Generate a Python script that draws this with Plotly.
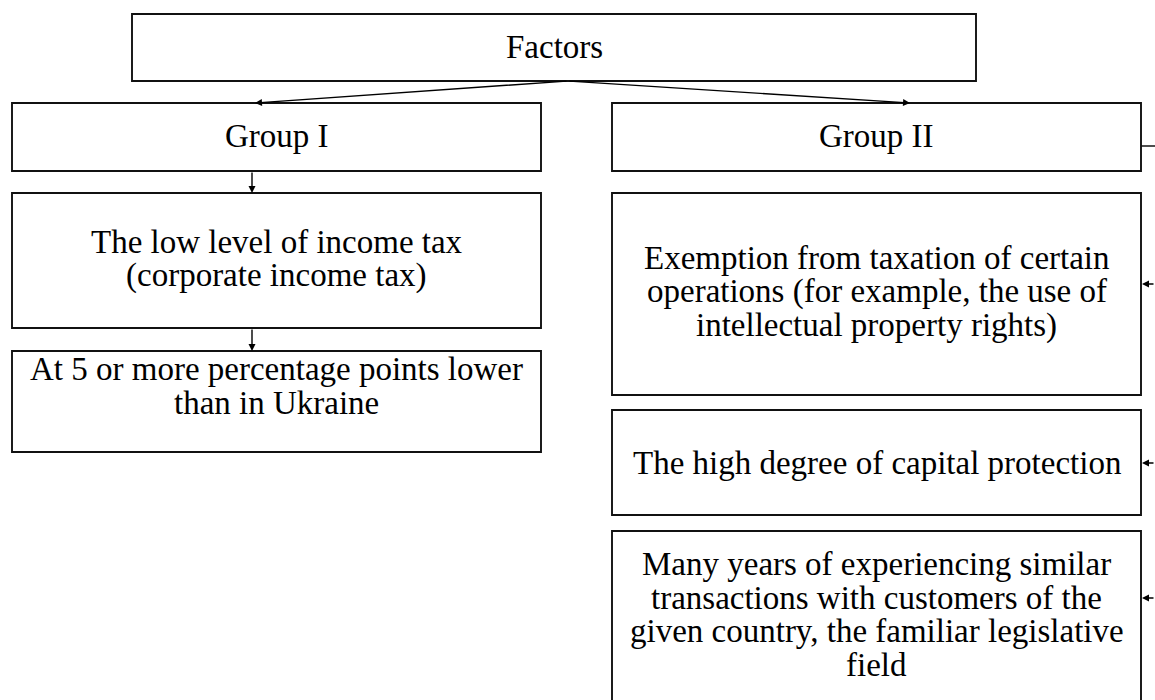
import plotly.graph_objects as go

# ---- content: each box's text, one entry per printed line ----
labels = [
    ["Factors"],
    ["Group I"],
    ["Group II"],
    ["The low level of income tax", "(corporate income tax)"],
    ["At 5 or more percentage points lower", "than in Ukraine"],
    ["Exemption from taxation of certain", "operations (for example, the use of",
     "intellectual property rights)"],
    ["The high degree of capital protection"],
    ["Many years of experiencing similar", "transactions with customers of the",
     "given country, the familiar legislative", "field"],
]

# ---- box geometry (pixel-like coordinates, y grows downward) ----
box_x0 = [132, 12, 612, 12, 12, 612, 612, 612]
box_x1 = [976, 541, 1141, 541, 541, 1141, 1141, 1141]
box_y0 = [14, 103, 103, 193, 351, 193, 410, 531]
box_y1 = [81, 171, 171, 328, 452, 395, 515, 712]
first_line_y = [47, 136, 136, 242, 369, 258, 463, 564]
line_step = 33.7

# ---- arrows: (tail_x, tail_y) -> (head_x, head_y) ----
arrow_tail_x = [568, 568, 252, 252, 1155, 1155, 1155]
arrow_tail_y = [81, 81, 171, 328, 284, 463, 598]
arrow_head_x = [255, 910, 252, 252, 1142, 1142, 1142]
arrow_head_y = [103, 103, 193, 351, 284, 463, 598]

# plain connector from Group II to the right edge
line_x = [1141, 1155]
line_y = [146, 146]

FONT = "Liberation Serif, Times New Roman, serif"
FS = 33

fig = go.Figure()
fig.add_trace(go.Scatter(x=line_x, y=line_y, mode="lines",
                         line=dict(color="black", width=1.4),
                         hoverinfo="skip", showlegend=False))

for i, lines in enumerate(labels):
    fig.add_shape(type="rect", xref="x", yref="y",
                  x0=box_x0[i], x1=box_x1[i], y0=box_y0[i], y1=box_y1[i],
                  line=dict(color="#111111", width=1.9), fillcolor="rgba(0,0,0,0)")
    cx = (box_x0[i] + box_x1[i]) / 2
    for k, txt in enumerate(lines):
        fig.add_annotation(x=cx, y=first_line_y[i] + k * line_step,
                           xref="x", yref="y", text=txt, showarrow=False,
                           xanchor="center", yanchor="middle",
                           font=dict(family=FONT, size=FS, color="black"))

for tx, ty, hx, hy in zip(arrow_tail_x, arrow_tail_y, arrow_head_x, arrow_head_y):
    fig.add_annotation(x=hx, y=hy, ax=tx, ay=ty, xref="x", yref="y",
                       axref="x", ayref="y", text="", showarrow=True,
                       arrowhead=2, arrowsize=1.0, arrowwidth=1.4,
                       arrowcolor="black", standoff=0, startstandoff=0)

fig.update_layout(
    width=1155, height=700,
    margin=dict(l=0, r=0, t=0, b=0),
    paper_bgcolor="white", plot_bgcolor="white",
    xaxis=dict(range=[0, 1155], visible=False, fixedrange=True),
    yaxis=dict(range=[700, 0], visible=False, fixedrange=True),
    showlegend=False,
)

fig.write_html(
    "out.html",
    config={"displayModeBar": False},
    post_script="document.body.style.margin='0';document.body.style.overflow='hidden';",
)
